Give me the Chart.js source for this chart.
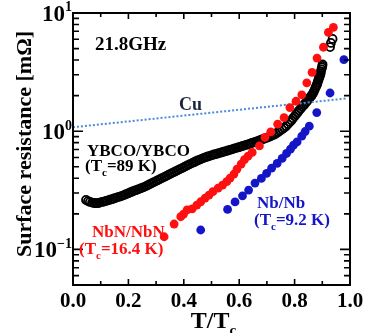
<!DOCTYPE html>
<html>
<head>
<meta charset="utf-8">
<script src="https://cdn.jsdelivr.net/npm/chart.js@4.4.0/dist/chart.umd.min.js"></script>
<style>
  html, body { margin: 0; padding: 0; background: #fff; }
</style>
</head>
<body>
<canvas id="my-chart" width="365" height="333"></canvas>
<script>
// YBCO/YBCO (cercles vides, très denses)
const ybcoT = [0.047,0.054,0.061,0.069,0.076,0.083,0.090,0.097,0.105,0.112,
    0.119,0.126,0.134,0.141,0.148,0.155,0.162,0.170,0.177,0.184,
    0.191,0.199,0.206,0.213,0.220,0.227,0.235,0.242,0.249,0.256,
    0.264,0.271,0.278,0.285,0.292,0.300,0.307,0.314,0.321,0.329,
    0.336,0.343,0.350,0.357,0.365,0.372,0.379,0.386,0.394,0.401,
    0.408,0.415,0.422,0.430,0.437,0.444,0.451,0.458,0.466,0.473,
    0.480,0.487,0.495,0.502,0.509,0.516,0.523,0.531,0.538,0.545,
    0.552,0.560,0.567,0.574,0.581,0.588,0.596,0.603,0.610,0.617,
    0.625,0.632,0.639,0.646,0.653,0.661,0.668,0.675,0.682,0.690,
    0.697,0.704,0.711,0.718,0.726,0.733,0.740,0.747,0.755,0.762,
    0.769,0.776,0.783,
    0.789,0.794,0.800,0.805,0.811,0.816,0.822,0.827,0.833,0.838,
    0.843,0.848,0.852,0.856,0.860,0.863,0.867,0.870,0.873,0.876,
    0.879,0.881,0.883,0.885,0.887,0.888,0.890,0.892,0.894,0.895,
    0.897,0.899,0.900,0.901,0.928,0.931,0.937];
const ybcoR = [0.262,0.256,0.252,0.249,0.247,0.246,0.246,0.249,0.252,0.254,
    0.257,0.260,0.263,0.266,0.270,0.273,0.277,0.280,0.284,0.288,
    0.293,0.298,0.303,0.308,0.313,0.317,0.322,0.327,0.332,0.337,
    0.343,0.350,0.357,0.364,0.371,0.378,0.386,0.393,0.401,0.409,
    0.417,0.425,0.434,0.442,0.451,0.460,0.469,0.478,0.487,0.497,
    0.507,0.517,0.527,0.537,0.547,0.557,0.567,0.576,0.586,0.595,
    0.604,0.611,0.619,0.628,0.635,0.641,0.648,0.656,0.664,0.671,
    0.679,0.687,0.695,0.703,0.712,0.720,0.729,0.737,0.746,0.755,
    0.765,0.774,0.784,0.795,0.806,0.817,0.828,0.839,0.851,0.863,
    0.875,0.888,0.902,0.918,0.934,0.957,0.981,1.008,1.036,1.068,
    1.102,1.148,1.198,
    1.240,1.287,1.335,1.386,1.440,1.495,1.550,1.610,1.660,1.713,
    1.770,1.837,1.890,1.936,1.980,2.032,2.100,2.176,2.260,2.351,
    2.420,2.493,2.580,2.668,2.750,2.828,2.900,2.969,3.080,3.208,
    3.340,3.468,3.570,3.677,5.145,5.582,6.034];

// NbN/NbN (rouge)
const nbnT = [0.329,0.365,0.389,0.399,0.412,0.430,0.447,0.461,0.477,0.491,0.505,0.524,0.540,0.555,0.567,0.581,0.592,0.607,0.619,0.632,0.647,0.673,0.693,0.714,0.739,0.762,0.783,0.805,0.826,0.844,0.863,0.881,0.904,0.922,0.940];
const nbnR = [0.128,0.164,0.189,0.199,0.216,0.220,0.237,0.253,0.272,0.288,0.308,0.330,0.350,0.374,0.401,0.434,0.478,0.527,0.575,0.615,0.661,0.751,0.885,0.986,1.146,1.305,1.585,1.792,2.032,2.566,3.148,4.155,5.134,6.846,7.545];

// Nb/Nb (bleu)
const nbT = [0.461,0.558,0.585,0.612,0.634,0.657,0.680,0.699,0.717,0.737,0.755,0.771,0.785,0.796,0.809,0.826,0.838,0.853,0.880,0.928,0.978];
const nbR = [0.146,0.218,0.252,0.284,0.318,0.364,0.399,0.440,0.487,0.534,0.588,0.648,0.705,0.762,0.812,0.907,0.994,1.102,1.438,2.105,4.027];

// Cu
const cuT = [0.0, 0.985];
const cuR = [1.08, 1.89];

// graduations
const xTickValues = [0, 0.2, 0.4, 0.6, 0.8, 1.0];
const xTickLabels = ['0.0', '0.2', '0.4', '0.6', '0.8', '1.0'];
const xMinorValues = [0.1, 0.3, 0.5, 0.7, 0.9];
const yTickValues = [0.1, 1, 10];
const yTickExp = ['-1', '0', '1'];
const yMinorValues = [0.05,0.06,0.07,0.08,0.09,0.2,0.3,0.4,0.5,0.6,0.7,0.8,0.9,2,3,4,5,6,7,8,9];

const FONT = '"Liberation Serif", "Times New Roman", serif';

function pts(xs, ys) {
    return xs.map((v, i) => ({ x: v, y: ys[i] }));
}

// texte avec indices / exposants
function rich(ctx, x, y, parts, size, color, measureOnly) {
    let cx = x;
    ctx.fillStyle = color;
    ctx.textAlign = 'left';
    ctx.textBaseline = 'alphabetic';
    for (const p of parts) {
        const s = (p.sub || p.sup) ? Math.round(size * 0.62) : size;
        ctx.font = `bold ${s}px ${FONT}`;
        const dy = p.sub ? size * 0.3 : (p.sup ? -size * 0.42 : 0);
        if (!measureOnly) ctx.fillText(p.t, cx, y + dy);
        cx += ctx.measureText(p.t).width;
    }
    return cx - x;
}

const decor = {
    id: 'decor',
    afterDatasetsDraw(chart) {
        const { ctx, chartArea: a, scales: { x, y } } = chart;
        ctx.save();
        ctx.strokeStyle = '#000';
        ctx.lineWidth = 2;
        ctx.strokeRect(a.left, a.top, a.right - a.left, a.bottom - a.top);

        ctx.lineWidth = 1.6;
        ctx.beginPath();
        const xt = (v, len) => {
            const px = x.getPixelForValue(v);
            ctx.moveTo(px, a.bottom); ctx.lineTo(px, a.bottom - len);
            ctx.moveTo(px, a.top); ctx.lineTo(px, a.top + len);
        };
        const yt = (v, len) => {
            const py = y.getPixelForValue(v);
            ctx.moveTo(a.left, py); ctx.lineTo(a.left + len, py);
            ctx.moveTo(a.right, py); ctx.lineTo(a.right - len, py);
        };
        xTickValues.forEach(v => xt(v, 6));
        xMinorValues.forEach(v => xt(v, 4));
        yTickValues.forEach(v => yt(v, 10));
        yMinorValues.forEach(v => yt(v, 6));
        ctx.stroke();

        // labels axe x
        ctx.fillStyle = '#000';
        ctx.font = `bold 21px ${FONT}`;
        ctx.textAlign = 'center';
        ctx.textBaseline = 'alphabetic';
        xTickValues.forEach((v, i) => {
            ctx.fillText(xTickLabels[i], x.getPixelForValue(v), a.bottom + 22);
        });

        // labels axe y 10^n
        yTickValues.forEach((v, i) => {
            const py = y.getPixelForValue(v);
            const parts = [{ t: '10' }, { t: yTickExp[i].replace('-', '\u2212'), sup: true }];
            const w = rich(ctx, 0, 0, parts, 23, '#000', true);
            rich(ctx, a.left - 1 - w, py + 8, parts, 23, '#000');
        });

        // titre axe x
        const xParts = [{ t: 'T/T' }, { t: 'c', sub: true }];
        const wx = rich(ctx, 0, 0, xParts, 24, '#000', true);
        rich(ctx, (a.left + a.right) / 2 + 2 - wx / 2, a.bottom + 43, xParts, 24, '#000');

        // titre axe y
        ctx.save();
        ctx.translate(31, 144);
        ctx.rotate(-Math.PI / 2);
        ctx.font = `bold 22px ${FONT}`;
        ctx.textAlign = 'center';
        ctx.fillStyle = '#000';
        ctx.fillText('Surface resistance [m\u03A9]', 0, 0);
        ctx.restore();

        // annotations
        rich(ctx, 95, 50, [{ t: '21.8GHz' }], 19, '#000');
        rich(ctx, 179, 110, [{ t: 'Cu' }], 18, '#1a2440');
        rich(ctx, 87, 156, [{ t: 'YBCO/YBCO' }], 17, '#000');
        rich(ctx, 85, 171, [{ t: '(T' }, { t: 'c', sub: true }, { t: '=89 K)' }], 17, '#000');
        rich(ctx, 92, 237, [{ t: 'NbN/NbN' }], 17, '#ff1010');
        rich(ctx, 79, 254, [{ t: '(T' }, { t: 'c', sub: true }, { t: '=16.4 K)' }], 17, '#ff1010');
        rich(ctx, 257, 208, [{ t: 'Nb/Nb' }], 17, '#1515c8');
        rich(ctx, 254, 225, [{ t: '(T' }, { t: 'c', sub: true }, { t: '=9.2 K)' }], 17, '#1515c8');
        ctx.restore();
    }
};

const noSize = (scale) => {
    if (scale.isHorizontal()) scale.height = 0; else scale.width = 0;
};

const myChart = new Chart(document.querySelector('#my-chart'), {
    type: 'scatter',
    data: {
        datasets: [
            {
                label: 'NbN/NbN',
                data: pts(nbnT, nbnR),
                pointRadius: 4.4,
                pointBackgroundColor: '#ff1010',
                pointBorderColor: '#ff1010',
                pointBorderWidth: 0
            },
            {
                label: 'Nb/Nb',
                data: pts(nbT, nbR),
                pointRadius: 4.4,
                pointBackgroundColor: '#1515c8',
                pointBorderColor: '#1515c8',
                pointBorderWidth: 0
            },
            {
                label: 'Cu',
                data: pts(cuT, cuR),
                showLine: true,
                pointRadius: 0,
                borderColor: '#4a8ad8',
                borderWidth: 2,
                borderDash: [2, 2]
            },
            {
                label: 'YBCO/YBCO',
                data: pts(ybcoT, ybcoR),
                pointRadius: 4.0,
                pointBackgroundColor: 'rgba(0,0,0,0)',
                pointBorderColor: '#000',
                pointBorderWidth: 1.8
            }
        ]
    },
    options: {
        responsive: false,
        animation: false,
        layout: { padding: { left: 73, right: 15, top: 13, bottom: 48 } },
        plugins: { legend: { display: false }, tooltip: { enabled: false } },
        scales: {
            x: {
                type: 'linear', min: 0, max: 1,
                ticks: { display: false },
                grid: { display: false, drawTicks: false },
                border: { display: false },
                afterFit: noSize
            },
            y: {
                type: 'logarithmic', min: 0.05, max: 10,
                ticks: { display: false },
                grid: { display: false, drawTicks: false },
                border: { display: false },
                afterFit: noSize
            }
        }
    },
    plugins: [decor]
});
</script>
</body>
</html>
